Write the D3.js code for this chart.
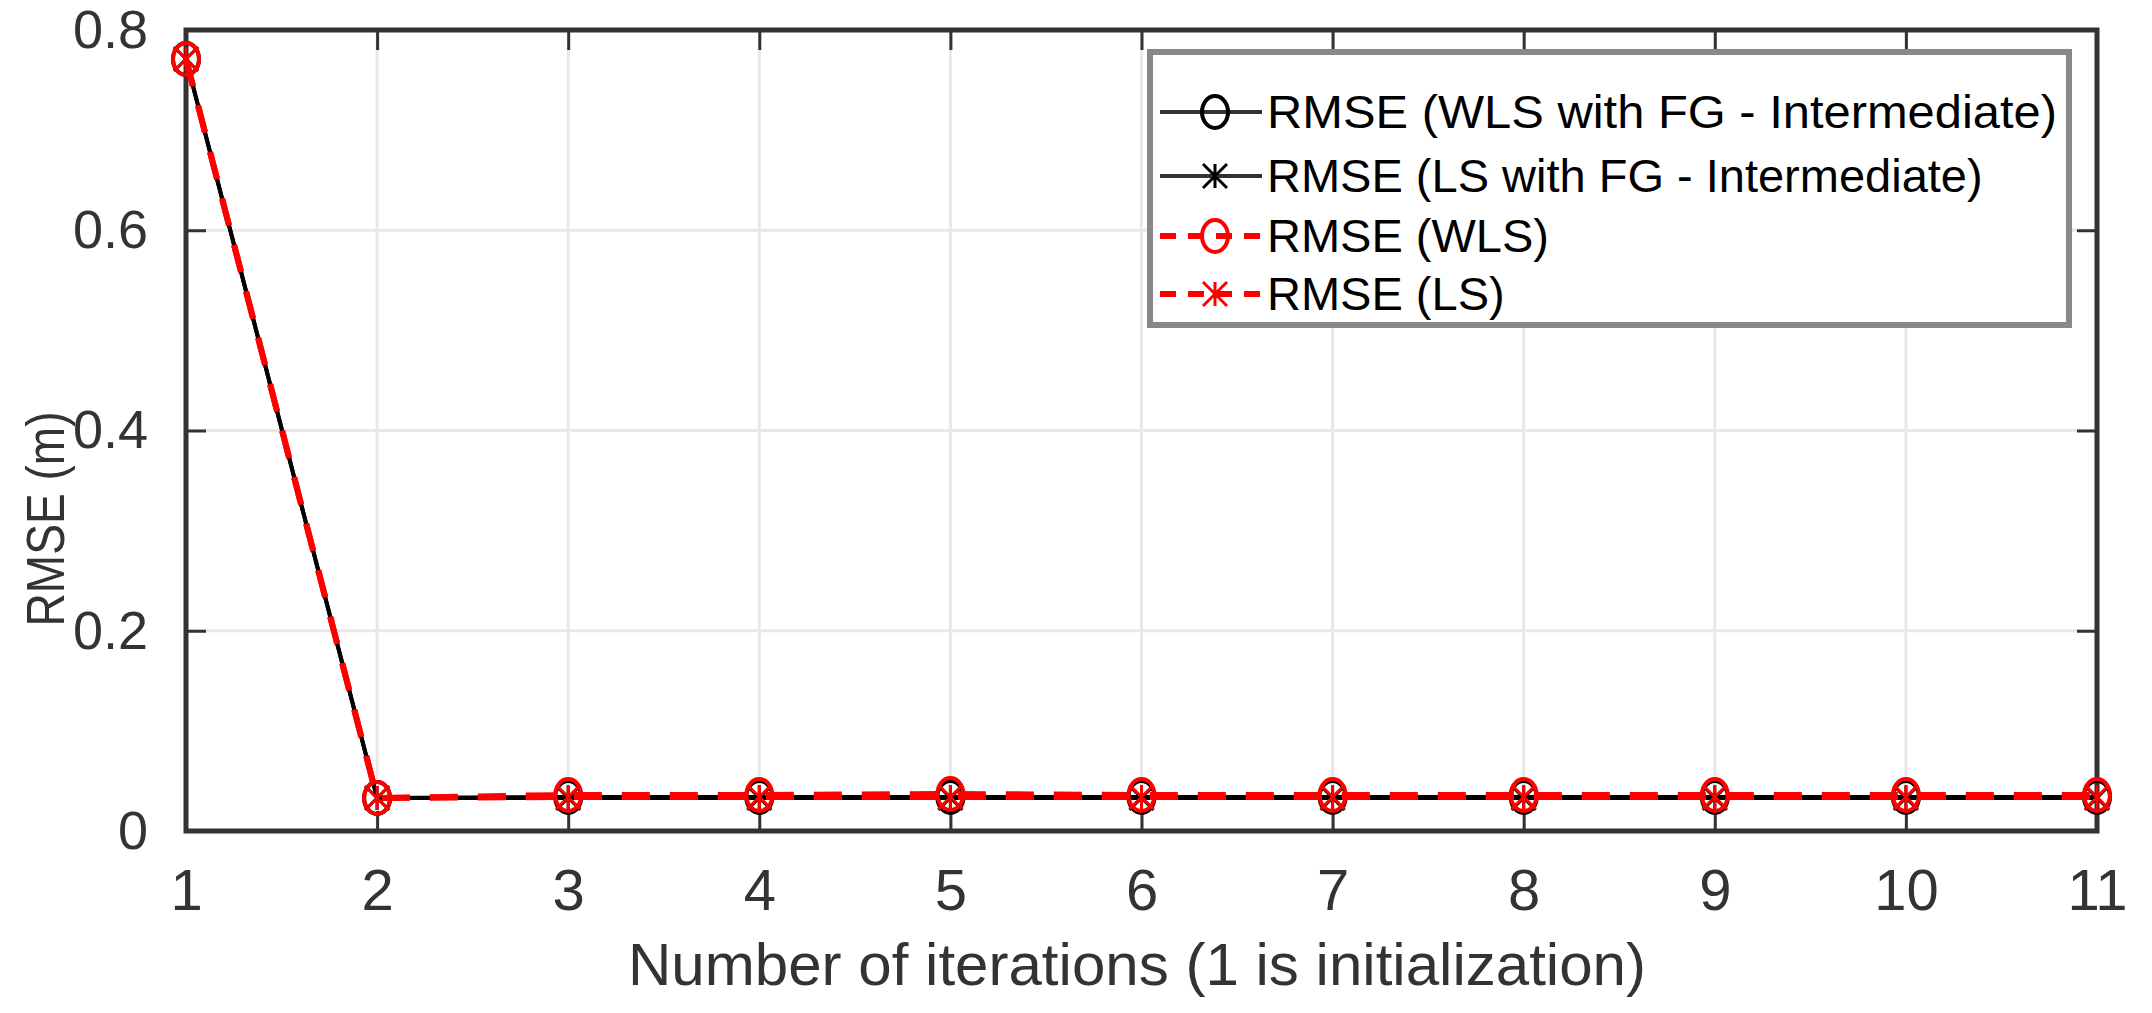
<!DOCTYPE html>
<html><head><meta charset="utf-8">
<script src="https://cdn.jsdelivr.net/npm/d3@7"></script>
<style>body{margin:0;background:#fff}</style></head>
<body><svg id="c" width="2152" height="1013"></svg>
<script>
const iterations=[1,2,3,4,5,6,7,8,9,10,11];
const wlsFG=[0.771,0.033,0.034,0.034,0.034,0.034,0.034,0.034,0.034,0.034,0.034];
const lsFG=[0.771,0.033,0.033,0.033,0.033,0.033,0.033,0.033,0.033,0.033,0.033];
const wls=[0.771,0.033,0.036,0.036,0.037,0.036,0.036,0.036,0.036,0.036,0.036];
const ls=[0.771,0.033,0.034,0.034,0.034,0.034,0.034,0.034,0.034,0.034,0.034];
const yTicks=[0,0.2,0.4,0.6,0.8];
const legendLabels=["RMSE (WLS with FG - Intermediate)","RMSE (LS with FG - Intermediate)","RMSE (WLS)","RMSE (LS)"];

const svg=d3.select("#c");
const L=186,R=2097,T=30,B=831;
const x=d3.scaleLinear().domain([1,11]).range([L,R]);
const y=d3.scaleLinear().domain([0,0.8]).range([B,T]);
const font="'Liberation Sans',Arial,sans-serif";
const g=svg.append("g");
g.selectAll(".gx").data(iterations.slice(1,-1)).join("line").attr("x1",d=>x(d)).attr("x2",d=>x(d)).attr("y1",T).attr("y2",B).attr("stroke","#e8e8e8").attr("stroke-width",3);
g.selectAll(".gy").data(yTicks.slice(1,-1)).join("line").attr("y1",d=>y(d)).attr("y2",d=>y(d)).attr("x1",L).attr("x2",R).attr("stroke","#e8e8e8").attr("stroke-width",3);
const ax=d3.axisBottom(x).tickValues(iterations).tickSize(-20).tickPadding(38).tickFormat(d3.format("d"));
const axT=d3.axisTop(x).tickValues(iterations).tickSize(-20).tickFormat("");
const ay=d3.axisLeft(y).tickValues(yTicks).tickSize(-20).tickPadding(38).tickFormat(d=>d===0?"0":d3.format(".1f")(d));
const ayR=d3.axisRight(y).tickValues(yTicks).tickSize(-20).tickFormat("");
function style(s,fs){s.select(".domain").remove();s.selectAll("line").attr("stroke","#333").attr("stroke-width",3);s.selectAll("text").attr("font-family",font).attr("font-size",fs).attr("fill","#333");}
svg.append("g").attr("transform",`translate(0,${B})`).call(ax).call(style,58);
svg.append("g").attr("transform",`translate(0,${T})`).call(axT).call(style,58);
svg.append("g").attr("transform",`translate(${L},0)`).call(ay).call(style,54);
svg.append("g").attr("transform",`translate(${R},0)`).call(ayR).call(style,58);
svg.append("rect").attr("x",L).attr("y",T).attr("width",R-L).attr("height",B-T).attr("fill","none").attr("stroke","#333").attr("stroke-width",5);

const line=d3.line().x((d,i)=>x(iterations[i])).y(d=>y(d));
const series=[
 {v:wlsFG,c:"#000",dash:null,w:4,m:"o"},
 {v:lsFG,c:"#000",dash:null,w:4,m:"x"},
 {v:wls,c:"#ff0000",dash:"28,20",w:6,m:"o"},
 {v:ls,c:"#ff0000",dash:"28,20",w:6,m:"x"}];
const plot=svg.append("g");
function marker(sel,s,cx,cy){
 if(s.m==="o") sel.append("ellipse").attr("cx",cx).attr("cy",cy).attr("rx",13).attr("ry",16).attr("fill","none").attr("stroke",s.c).attr("stroke-width",4);
 else{const r=12;sel.append("path").attr("d",`M${cx-r},${cy-r}L${cx+r},${cy+r}M${cx-r},${cy+r}L${cx+r},${cy-r}M${cx},${cy-r}V${cy+r}`).attr("stroke",s.c).attr("stroke-width",3);}
}
series.forEach(s=>{
 plot.append("path").datum(s.v).attr("d",line).attr("fill","none").attr("stroke",s.c).attr("stroke-width",s.w).attr("stroke-dasharray",s.dash);
 s.v.forEach((d,i)=>marker(plot,s,x(iterations[i]),y(d)));
});
const lg=svg.append("g");
lg.append("rect").attr("x",1150).attr("y",52).attr("width",919).attr("height",273).attr("fill","#fff").attr("stroke","#888").attr("stroke-width",6);
const rows=[128,192,252,310];
legendLabels.forEach((t,i)=>{
 const s=series[i],cy=rows[i]-16;
 lg.append("line").attr("x1",1160).attr("x2",1262).attr("y1",cy).attr("y2",cy).attr("stroke",s.c==="#000"?"#333":s.c).attr("stroke-width",s.w).attr("stroke-dasharray",s.dash?"16,12":null);
 marker(lg,s,1215,cy);
 lg.append("text").attr("x",1267).attr("y",rows[i]).attr("font-family",font).attr("font-size",47).attr("fill","#000")
  .attr("textLength",i===0?790:null).attr("lengthAdjust","spacingAndGlyphs").text(t);
});
svg.append("text").attr("x",(628+1646)/2).attr("y",985).attr("text-anchor","middle").attr("font-family",font).attr("font-size",60).attr("fill","#333").attr("textLength",1018).attr("lengthAdjust","spacingAndGlyphs").text("Number of iterations (1 is initialization)");
svg.append("text").attr("transform","translate(64,519) rotate(-90)").attr("text-anchor","middle").attr("font-family",font).attr("font-size",54).attr("fill","#333").attr("textLength",215).attr("lengthAdjust","spacingAndGlyphs").text("RMSE (m)");
</script></body></html>
